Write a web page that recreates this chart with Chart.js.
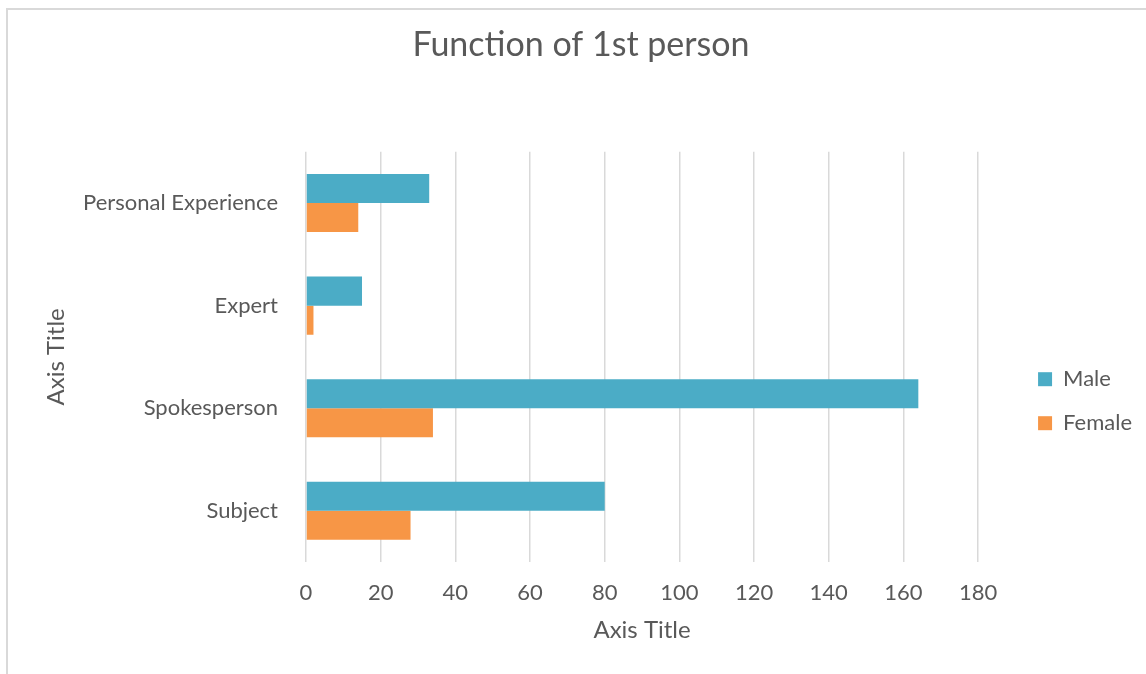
<!DOCTYPE html>
<html>
<head>
<meta charset="utf-8">
<title>Function of 1st person</title>
<script src="https://cdn.jsdelivr.net/npm/chart.js@4/dist/chart.umd.min.js"></script>
<style>
  html, body { margin: 0; padding: 0; overflow: hidden; background: #fff; }
  #wrap { position: relative; width: 1146px; height: 674px; }
  #frame {
    position: absolute; left: 6px; top: 8px;
    width: 2000px; height: 2000px;
    border: 2px solid #d9d9d9; box-sizing: border-box;
  }
  #funcChart { position: absolute; left: 0; top: 0; }
</style>
</head>
<body>
<div id="wrap">
  <div id="frame"></div>
  <canvas id="funcChart" width="1146" height="674"></canvas>
</div>

<script>
/* --------------------------------------------
   DATA
--------------------------------------------- */
const categories = ["Personal Experience", "Expert", "Spokesperson", "Subject"];
const maleValues = [33, 15, 164, 80];
const femaleValues = [14, 2, 34, 28];
const seriesNames = ["Male", "Female"];
const xTicks = [0, 20, 40, 60, 80, 100, 120, 140, 160, 180];

/* --------------------------------------------
   STYLE
--------------------------------------------- */
const textColor = "#595959";
const gridColor = "#d9d9d9";
const fontFamily = "Lato, 'Open Sans', sans-serif";

/* --------------------------------------------
   CHART
--------------------------------------------- */
const ctx = document.getElementById("funcChart");

new Chart(ctx, {
  type: "bar",
  data: {
    labels: categories,
    datasets: [
      {
        label: seriesNames[0],
        data: maleValues,
        backgroundColor: "#4BACC6",
        categoryPercentage: 0.566,
        barPercentage: 1.0,
      },
      {
        label: seriesNames[1],
        data: femaleValues,
        backgroundColor: "#F79646",
        categoryPercentage: 0.566,
        barPercentage: 1.0,
      },
    ],
  },
  options: {
    indexAxis: "y",
    responsive: false,
    animation: false,
    layout: { padding: { left: 20, right: 4, top: 0, bottom: 0 } },
    plugins: {
      title: {
        display: true,
        text: "Function of 1st person",
        color: textColor,
        font: { family: fontFamily, size: 34, weight: "normal" },
        padding: { top: 25, bottom: 86 },
      },
      legend: {
        position: "right",
        title: { display: true, text: "", font: { size: 12 }, padding: { top: 114, bottom: 0 } },
        labels: {
          color: textColor,
          boxWidth: 14,
          boxHeight: 14,
          padding: 22,
          font: { family: fontFamily, size: 22 },
        },
      },
      tooltip: { enabled: false },
    },
    scales: {
      x: {
        min: 0,
        max: xTicks[xTicks.length - 1],
        afterBuildTicks: (scale) => {
          scale.ticks = xTicks.map((v) => ({ value: v }));
        },
        grid: { color: gridColor, lineWidth: 1.5, drawTicks: false },
        border: { display: false },
        ticks: {
          color: textColor,
          padding: 18,
          font: { family: fontFamily, size: 22 },
        },
        title: {
          display: true,
          text: "Axis Title",
          color: textColor,
          font: { family: fontFamily, size: 24 },
          padding: { top: 0, bottom: 29 },
        },
        afterFit: (scale) => { scale.height = 112; },
      },
      y: {
        grid: { display: false, drawTicks: false },
        border: { display: false },
        ticks: {
          color: textColor,
          padding: 28,
          font: { family: fontFamily, size: 22 },
        },
        title: {
          display: true,
          text: "Axis Title",
          color: textColor,
          font: { family: fontFamily, size: 24 },
          padding: { top: 22, bottom: 0 },
        },
        afterFit: (scale) => { scale.width = 286; },
      },
      // empty spacer between plot and legend
      gap: {
        type: "category",
        position: "right",
        grid: { display: false },
        border: { display: false },
        ticks: { display: false },
        afterFit: (scale) => { scale.width = 38; },
      },
    },
  },
});
</script>
</body>
</html>
